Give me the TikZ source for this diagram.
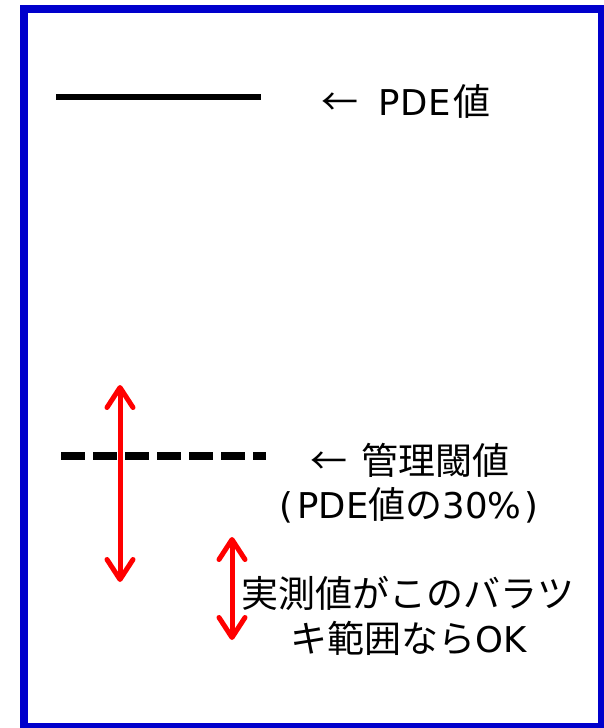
\documentclass[tikz,border=0pt]{standalone}
\usepackage{fontspec}
\setmainfont{DejaVu Sans}
\newfontfamily\cjk{Noto Sans CJK JP}
\usetikzlibrary{arrows.meta}
\definecolor{frameblue}{RGB}{0,0,204}
\newcommand{\jp}[1]{{\cjk\fontsize{37}{45}\selectfont #1}}
\tikzset{
  lbl/.style={font=\fontsize{35.5}{45}\selectfont, inner sep=0pt, text=black, align=center},
  redarrow/.style={draw=red, line width=5pt, {Straight Barb[length=20pt,width=26pt,round]}-{Straight Barb[length=20pt,width=26pt,round]}},
  pdeline/.style={draw=black, line width=6pt},
  thrline/.style={draw=black, line width=8pt, dash pattern=on 24pt off 8pt}
}
\begin{document}
\begin{tikzpicture}[x=1pt,y=-1pt]
\useasboundingbox (0,0) rectangle (604,728);
\draw[frameblue, line width=8pt] (23.5,9) rectangle (601.5,727);
% PDE value line
\coordinate (p1) at (56,97);
\coordinate (p2) at (261,97);
\draw[pdeline] (p1) -- (p2);
\node[lbl, anchor=west] (pde) at (321,101) {\jp{←}\hspace{20pt}P\hspace{1pt}D\hspace{1pt}E\hspace{2pt}\jp{値}};
% threshold line
\coordinate (t1) at (61,456);
\coordinate (t2) at (266,456);
\draw[thrline] (t1) -- (t2);
\node[lbl, anchor=west] (thr) at (310,460) {\jp{←}\hspace{14pt}\jp{管理閾値}};
\node[lbl] (thr2) at (409,505) {(\hspace{4pt}PDE\jp{値の}30\%\hspace{3pt})};
% arrows
\coordinate (a1) at (120,385);
\coordinate (a2) at (120,582);
\draw[redarrow] (a1) -- (a2);
\coordinate (b1) at (232,537);
\coordinate (b2) at (232,640);
\draw[redarrow] (b1) -- (b2);
\node[lbl] (ok1) at (408,593) {\jp{実測値がこのバラツ}};
\node[lbl] (ok2) at (409,638) {\jp{キ範囲なら}OK};
\end{tikzpicture}
\end{document}
